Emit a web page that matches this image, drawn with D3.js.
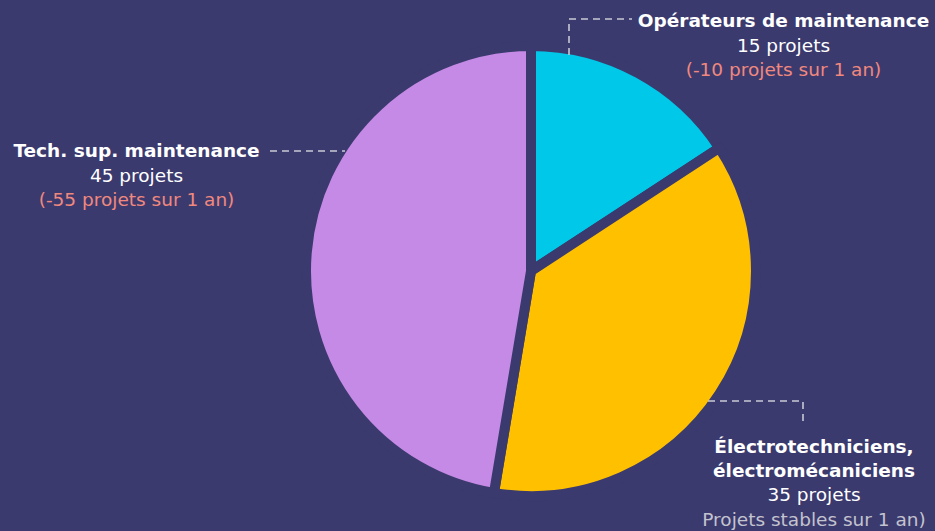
<!DOCTYPE html>
<html><head><meta charset="utf-8">
<script src="https://cdn.jsdelivr.net/npm/d3@7"></script>
<style>html,body{margin:0;padding:0;background:#3b3a6e;}svg{display:block;}</style>
</head><body>
<svg id="chart" width="935" height="531"></svg>
<script>
const categories = ["Opérateurs de maintenance", "Électrotechniciens, électromécaniciens", "Tech. sup. maintenance"];
const values = [15, 35, 45];
const changes = ["(-10 projets sur 1 an)", "Projets stables sur 1 an)", "(-55 projets sur 1 an)"];
const colors = ["#00c8e8", "#ffc000", "#c58ae6"];

const W = 935, H = 531, bg = "#3b3a6e";
const svg = d3.select("#chart");
svg.append("rect").attr("width", W).attr("height", H).attr("fill", bg);
const cx = 531, cy = 271, R = 225;
const g = svg.append("g").attr("transform", `translate(${cx},${cy})`);
const pie = d3.pie().sort(null).value(d => d)(values);
const arc = d3.arc().innerRadius(0).outerRadius(R);
g.selectAll("path").data(pie).join("path")
  .attr("d", arc).attr("fill", (d, i) => colors[i])
  .attr("stroke", bg).attr("stroke-width", 10).attr("stroke-linejoin", "miter");

const font = "'DejaVu Sans', 'Noto Sans', sans-serif";
const lineStyle = {stroke: "#c9c9d6", "stroke-width": 1.6, "stroke-dasharray": "7,5", fill: "none"};
function leader(pts) {
  const p = svg.append("path").attr("d", d3.line()(pts));
  Object.entries(lineStyle).forEach(([k, v]) => p.attr(k, v));
}
leader([[569, 55], [569, 19], [632, 19]]);
leader([[270, 151], [345, 151]]);
leader([[708, 401], [803, 401], [803, 423]]);

function label(x, y, dy, lines) {
  const t = svg.append("text").attr("text-anchor", "middle").attr("font-family", font);
  lines.forEach((l, i) => {
    t.append("tspan").attr("x", x).attr("y", y + i * dy)
      .attr("font-size", l.bold ? 18.5 : 18.5).attr("font-weight", l.bold ? 700 : 400)
      .attr("fill", l.color).text(l.text);
  });
}
label(783.5, 27, 24.5, [
  {text: categories[0], bold: true, color: "#ffffff"},
  {text: values[0] + " projets", color: "#ffffff"},
  {text: changes[0], color: "#f0887e"}
]);
label(136.5, 157, 24.5, [
  {text: categories[2], bold: true, color: "#ffffff"},
  {text: values[2] + " projets", color: "#ffffff"},
  {text: changes[2], color: "#f0887e"}
]);
label(814, 453, 24.2, [
  {text: "Électrotechniciens,", bold: true, color: "#ffffff"},
  {text: "électromécaniciens", bold: true, color: "#ffffff"},
  {text: values[1] + " projets", color: "#ffffff"},
  {text: changes[1], color: "#c3c3cf"}
]);
</script>
</body></html>
